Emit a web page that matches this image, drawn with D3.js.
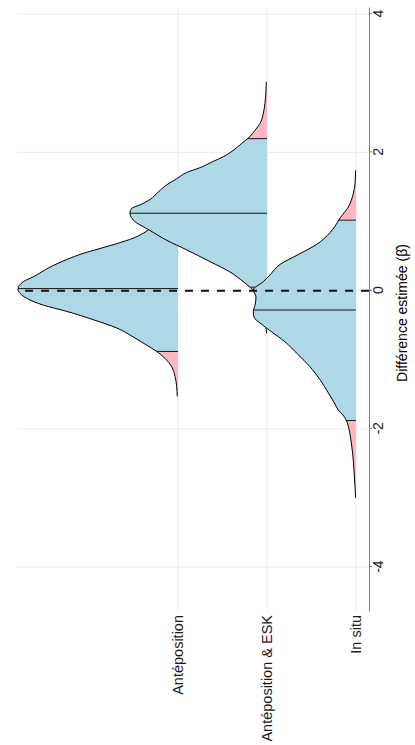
<!DOCTYPE html>
<html><head><meta charset="utf-8">
<script src="https://cdn.jsdelivr.net/npm/d3@7"></script>
<style>html,body{margin:0;padding:0;background:#fff}</style>
</head><body>
<script>
// ---------- DATA ----------
const categories = ["Antéposition", "Antéposition & ESK", "In situ"];

const betaAnte = [-1.53,-1.39,-1.24,-1.10,-0.98,-0.88,-0.79,-0.67,-0.54,-0.42,-0.30,-0.21,-0.11,-0.04,0.02,0.13,0.20,0.34,0.45,0.54,0.61,0.68,0.76,0.83,0.88,1.00,1.20,1.40,1.60];
const densAnte = [0.004,0.007,0.016,0.034,0.069,0.113,0.166,0.238,0.326,0.451,0.592,0.716,0.805,0.840,0.851,0.823,0.770,0.681,0.592,0.504,0.415,0.326,0.238,0.185,0.158,0.110,0.060,0.025,0.005];
const quantAnte = [-0.88, 0.03, 0.93];

const betaEsk = [-0.62,-0.55,-0.45,-0.30,-0.15,-0.02,0.05,0.13,0.27,0.42,0.59,0.73,0.87,1.02,1.06,1.12,1.19,1.24,1.32,1.43,1.53,1.62,1.71,1.78,1.87,1.94,2.03,2.13,2.21,2.32,2.42,2.56,2.71,2.90,3.02];
const densEsk = [0.002,0.005,0.020,0.037,0.050,0.069,0.090,0.126,0.197,0.303,0.427,0.534,0.622,0.711,0.722,0.729,0.720,0.676,0.622,0.578,0.534,0.480,0.427,0.356,0.286,0.232,0.179,0.135,0.099,0.064,0.037,0.020,0.011,0.005,0.004];
const quantEsk = [0.05, 1.12, 2.20];

const betaInsitu = [-3.00,-2.84,-2.59,-2.35,-2.16,-2.02,-1.87,-1.80,-1.73,-1.64,-1.48,-1.29,-1.10,-0.92,-0.74,-0.58,-0.48,-0.38,-0.30,-0.21,-0.09,0.01,0.13,0.23,0.38,0.52,0.67,0.84,0.93,1.05,1.21,1.41,1.55,1.74];
const densInsitu = [0.002,0.005,0.011,0.018,0.027,0.036,0.053,0.069,0.094,0.112,0.147,0.191,0.245,0.310,0.378,0.457,0.505,0.543,0.546,0.537,0.532,0.546,0.493,0.457,0.404,0.309,0.209,0.138,0.112,0.085,0.041,0.014,0.005,0.002];
const quantInsitu = [-1.88, -0.28, 1.02];

const xTicks = [-4, -2, 0, 2, 4];
const xTickLabels = ["-4", "-2", "0", "2", "4"];
const refLine = 0;
const axisTitle = "Différence estimée (β\u0302)";

// ---------- LAYOUT ----------
const W = 415, H = 745;
const FONT = "'Liberation Sans', Arial, Helvetica, sans-serif";
const BLUE = "#ADD8E6", PINK = "#FFB6C1";

const svg = d3.select("body").append("svg")
  .attr("width", W).attr("height", H).style("display", "block");
svg.append("rect").attr("width", W).attr("height", H).attr("fill", "#fff");
const defs = svg.append("defs");

// the chart is drawn in an unrotated frame (745 wide, 415 tall) then rotated -90°
const g = svg.append("g").attr("transform", `translate(0,${H}) rotate(-90)`);
const panel = {left: 133, right: 737, top: 17, bottom: 369};

const x = d3.scaleLinear().domain([-4.65, 4.09]).range([panel.left, panel.right]);
const yCat = d3.scalePoint().domain(categories).range([178, 356]);
const hScale = d3.scaleLinear().domain([0, 1]).range([0, 188]);

// grid
g.append("g").selectAll("line").data(xTicks).join("line")
  .attr("x1", d => x(d)).attr("x2", d => x(d))
  .attr("y1", panel.top).attr("y2", panel.bottom)
  .attr("stroke", "#ededed").attr("stroke-width", 1);
g.append("g").selectAll("line").data(categories).join("line")
  .attr("x1", panel.left).attr("x2", panel.right)
  .attr("y1", d => yCat(d)).attr("y2", d => yCat(d))
  .attr("stroke", "#ededed").attr("stroke-width", 1);

// ridges
const ridges = [
  {name: categories[0], beta: betaAnte, dens: densAnte, q: quantAnte},
  {name: categories[1], beta: betaEsk, dens: densEsk, q: quantEsk},
  {name: categories[2], beta: betaInsitu, dens: densInsitu, q: quantInsitu}
];

ridges.forEach((r, i) => {
  const base = yCat(r.name);
  const pts = r.beta.map((b, j) => [b, r.dens[j]]);
  const area = d3.area().x(d => x(d[0])).y0(base).y1(d => base - hScale(d[1])).curve(d3.curveMonotoneX);
  const line = d3.line().x(d => x(d[0])).y(d => base - hScale(d[1])).curve(d3.curveMonotoneX);

  const areaClip = `area-clip-${i}`;
  defs.append("clipPath").attr("id", areaClip).append("path").attr("d", area(pts));
  const bandClip = `band-clip-${i}`;
  defs.append("clipPath").attr("id", bandClip).append("rect")
    .attr("x", x(r.q[0])).attr("width", x(r.q[2]) - x(r.q[0]))
    .attr("y", -1000).attr("height", 3000);

  const gr = g.append("g");
  gr.append("path").attr("d", area(pts)).attr("fill", PINK);
  gr.append("path").attr("d", area(pts)).attr("fill", BLUE).attr("clip-path", `url(#${bandClip})`);
  gr.append("g").attr("clip-path", `url(#${areaClip})`)
    .selectAll("line").data(r.q).join("line")
    .attr("x1", d => x(d)).attr("x2", d => x(d))
    .attr("y1", base).attr("y2", base - hScale(1.5))
    .attr("stroke", "#1a1a1a").attr("stroke-width", 1);
  gr.append("path").attr("d", line(pts)).attr("fill", "none")
    .attr("stroke", "#000").attr("stroke-width", 1);
});

// reference line
g.append("line")
  .attr("x1", x(refLine)).attr("x2", x(refLine))
  .attr("y1", panel.bottom).attr("y2", panel.top)
  .attr("stroke", "#111").attr("stroke-width", 2).attr("stroke-dasharray", "8,8");

// x axis
const ax = g.append("g").attr("transform", `translate(0,${panel.bottom})`)
  .call(d3.axisBottom(x).tickValues(xTicks).tickFormat((d, i) => xTickLabels[i])
    .tickSize(3).tickSizeOuter(0).tickPadding(1.5));
ax.select(".domain").attr("stroke", "#808080").attr("stroke-width", 1);
ax.selectAll(".tick line").attr("stroke", "#808080").attr("stroke-width", 1);
ax.selectAll(".tick text").attr("font-size", 14).attr("font-family", FONT).attr("fill", "#1a1a1a");

// category labels
g.append("g").selectAll("text").data(categories).join("text")
  .attr("x", panel.left - 3).attr("y", d => yCat(d)).attr("dy", "0.35em")
  .attr("text-anchor", "end").attr("font-size", 14.5).attr("font-family", FONT)
  .attr("fill", "#1a1a1a").text(d => d);

// axis title
g.append("text").attr("x", 432).attr("y", 407).attr("text-anchor", "middle")
  .attr("font-size", 14).attr("font-family", FONT).attr("fill", "#000")
  .text(axisTitle);
</script>
</body></html>
